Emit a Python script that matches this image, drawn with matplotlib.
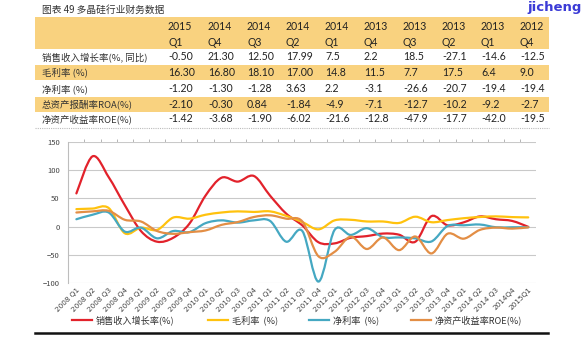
import matplotlib
matplotlib.use('Agg')
import matplotlib.pyplot as plt
import numpy as np
from matplotlib.path import Path
from matplotlib.patches import PathPatch, Rectangle
from matplotlib.lines import Line2D

plt.rcParams['font.family'] = ['Noto Sans CJK SC', 'DejaVu Sans']

W, H = 583, 337

# table data
tbl_years = ['2015', '2014', '2014', '2014', '2014', '2013', '2013', '2013', '2013', '2012']
tbl_quarters = ['Q1', 'Q4', 'Q3', 'Q2', 'Q1', 'Q4', 'Q3', 'Q2', 'Q1', 'Q4']
tbl_labels = ['销售收入增长率(%, 同比)', '毛利率 (%)', '净利率 (%)',
              '总资产报酬率ROA(%)', '净资产收益率ROE(%)']
tbl_sales = ['-0.50', '21.30', '12.50', '17.99', '7.5', '2.2', '18.5', '-27.1', '-14.6', '-12.5']
tbl_gross = ['16.30', '16.80', '18.10', '17.00', '14.8', '11.5', '7.7', '17.5', '6.4', '9.0']
tbl_net = ['-1.20', '-1.30', '-1.28', '3.63', '2.2', '-3.1', '-26.6', '-20.7', '-19.4', '-19.4']
tbl_roa = ['-2.10', '-0.30', '0.84', '-1.84', '-4.9', '-7.1', '-12.7', '-10.2', '-9.2', '-2.7']
tbl_roe = ['-1.42', '-3.68', '-1.90', '-6.02', '-21.6', '-12.8', '-47.9', '-17.7', '-42.0', '-19.5']

# chart data, 2008 Q1 .. 2015 Q1
quarters = []
for yr in range(2008, 2015):
    for q in range(1, 5):
        quarters.append('%d Q%d' % (yr, q))
quarters[-1] = '2014Q4'
quarters.append('2015Q1')

sales = [59, 125, 88, 38, -8, -27, -20, 5, 55, 87, 80, 90, 55, 23, 2,
         -28, -30, -20, -17, -12.5, -14.6, -27.1, 18.5, 2.2, 7.5, 18.0, 13, 10, -0.5]
gross = [31, 32, 33, -12, -2, -6, 16, 14, 21, 25, 27, 26, 27, 19, 8,
         -5, 11, 12, 9, 9.0, 6.4, 17.5, 7.7, 11.5, 14.8, 17.0, 18.1, 16.8, 16.3]
net = [13, 21, 25, -9, -2, -21, -8, -10, 6, 11, 7, 11, 10, -27, -8,
       -98, -6, -15, -3, -19, -19.4, -21, -26.6, 1, 2.2, 3.6, -1.3, -1.3, -1.2]
roe = [25, 27, 28, 12, 9, -8, -13, -10, -7, 3, 8, 17, 20, 14, 9,
       -53, -45, -18, -40, -19.5, -42.0, -17.7, -47.9, -12.8, -21.6, -6.0, -1.9, -3.7, -1.4]

legend_labels = ['销售收入增长率(%)', '毛利率  (%)', '净利率  (%)', '净资产收益率ROE(%)']
colors = ['#E2222B', '#FFC20E', '#45A8C2', '#E38E45']


def fx(x):
    return x / W


def fy(y):
    return 1 - y / H


fig = plt.figure(figsize=(W / 100, H / 100), dpi=100)

# title and watermark
fig.text(fx(42), fy(10), '图表 49 多晶硅行业财务数据', fontsize=7, color='#333333',
         va='center', ha='left')
fig.text(fx(582), fy(7), 'jicheng', fontsize=9.5, color='#3b3bd6', fontweight='bold',
         va='center', ha='right', family='DejaVu Sans')

# table bands
band = '#F9D27F'
for y0, y1 in [(17, 49), (65, 80), (97, 112)]:
    fig.patches.append(Rectangle((fx(35), fy(y1)), fx(549) - fx(35), fy(y0) - fy(y1),
                                 transform=fig.transFigure, color=band, lw=0, zorder=0))
fig.add_artist(Line2D([fx(35), fx(549)], [fy(128), fy(128)], transform=fig.transFigure,
                      color='#bbbbbb', lw=0.8, ls=(0, (1, 1))))

col_x = [168, 208, 247, 286, 325, 364, 403, 442, 481, 520]
num_font = dict(fontsize=7.6, color='#222222', va='center', ha='left', family='Lato')
for x, yr, q in zip(col_x, tbl_years, tbl_quarters):
    fig.text(fx(x), fy(26), yr, **num_font)
    fig.text(fx(x), fy(42), q, **num_font)

row_y = [57, 72, 89, 104, 119]
for y, lab, vals in zip(row_y, tbl_labels,
                        [tbl_sales, tbl_gross, tbl_net, tbl_roa, tbl_roe]):
    fig.text(fx(42), fy(y), lab, fontsize=6.8, color='#333333', va='center', ha='left')
    for x, v in zip(col_x, vals):
        fig.text(fx(x), fy(y), v, **num_font)

# chart
ax = fig.add_axes([fx(68), fy(282.7), fx(536) - fx(68), fy(142.3) - fy(282.7)])
ax.set_xlim(-0.52, 28.48)
ax.set_ylim(-100, 150)


def smooth_path(xs, ys):
    pts = np.column_stack([xs, ys]).astype(float)
    n = len(pts)
    verts = [pts[0]]
    codes = [Path.MOVETO]
    for i in range(n - 1):
        p0 = pts[max(i - 1, 0)]
        p1 = pts[i]
        p2 = pts[i + 1]
        p3 = pts[min(i + 2, n - 1)]
        verts += [p1 + (p2 - p0) / 6, p2 - (p3 - p1) / 6, p2]
        codes += [Path.CURVE4] * 3
    return Path(verts, codes)


xs = np.arange(len(quarters))
for series, c in zip([sales, gross, net, roe], colors):
    ax.add_patch(PathPatch(smooth_path(xs, series), fill=False, edgecolor=c,
                           lw=1.6, capstyle='round', zorder=3))

ax.set_yticks(np.arange(-100, 151, 50))
ax.tick_params(axis='y', labelsize=5.5, labelcolor='#444444', length=0, pad=6)
ax.set_xticks(xs)
ax.set_xticklabels(quarters, rotation=45, ha='right', rotation_mode='anchor',
                   fontsize=5.2, color='#444444', family='DejaVu Sans')
ax.tick_params(axis='x', length=0, pad=3)
ax.set_xticks(xs[:-1] + 0.5, minor=True)
ax.tick_params(axis='x', which='minor', top=True, bottom=False, direction='out',
               length=2, color='#aaaaaa', width=0.6)
ax.grid(axis='y', color='#c9c9c9', lw=0.8)
for s in ['top', 'right', 'bottom']:
    ax.spines[s].set_visible(False)
ax.spines['left'].set_color('#bdbdbd')
ax.spines['left'].set_linewidth(0.8)

# legend
leg_x = [72, 208, 309, 411]
for x, lab, c in zip(leg_x, legend_labels, colors):
    fig.add_artist(Line2D([fx(x), fx(x + 20)], [fy(320), fy(320)],
                          transform=fig.transFigure, color=c, lw=1.6))
    fig.text(fx(x + 24), fy(320), lab, fontsize=6.6, color='#333333',
             va='center', ha='left')

fig.add_artist(Line2D([fx(35), fx(548)], [fy(333), fy(333)], transform=fig.transFigure,
                      color='#111111', lw=1.8))

fig.savefig('out.png', dpi=100)
